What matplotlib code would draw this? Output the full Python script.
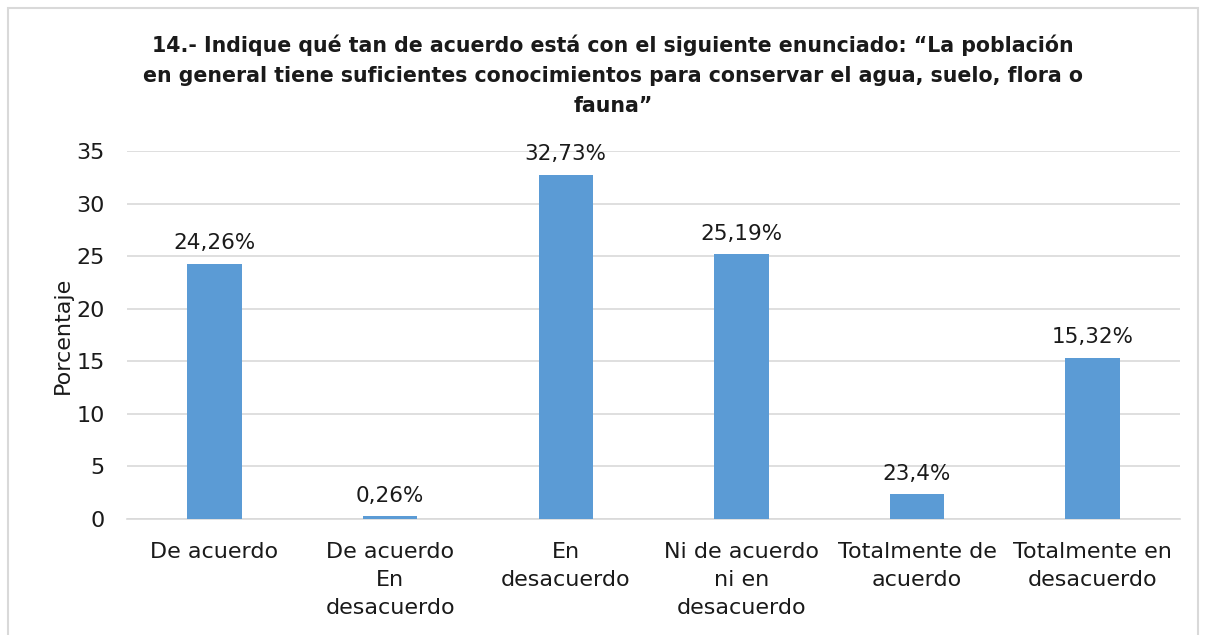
import matplotlib
matplotlib.use('Agg')
import matplotlib.pyplot as plt
from matplotlib.patches import Rectangle

# data
categorias = ['De acuerdo', 'De acuerdo\nEn\ndesacuerdo', 'En\ndesacuerdo',
              'Ni de acuerdo\nni en\ndesacuerdo', 'Totalmente de\nacuerdo',
              'Totalmente en\ndesacuerdo']
valores = [24.26, 0.26, 32.73, 25.19, 2.34, 15.32]
etiquetas = ['24,26%', '0,26%', '32,73%', '25,19%', '23,4%', '15,32%']
yticks = [0, 5, 10, 15, 20, 25, 30, 35]

titulo = ('14.- Indique qué tan de acuerdo está con el siguiente enunciado: \u201cLa población\n'
          'en general tiene suficientes conocimientos para conservar el agua, suelo, flora o\n'
          'fauna\u201d')

plt.rcParams['font.family'] = ['DejaVu Sans']

fig = plt.figure(figsize=(12.07, 6.35), dpi=100)
ax = fig.add_axes([0.105, 0.183, 0.873, 0.579])

# light frame around the chart
fig.patches.append(Rectangle((8/1207, -0.05), 1190/1207, 1 - 8/635 + 0.05,
                             transform=fig.transFigure, fill=False,
                             edgecolor='#d9d9d9', linewidth=1.5))

x = range(len(categorias))
ax.bar(x, valores, width=0.31, color='#5b9bd5', zorder=3)
for i, (v, t) in enumerate(zip(valores, etiquetas)):
    ax.text(i, v + 1.0, t, ha='center', va='bottom', fontsize=15.5, color='#1a1a1a')

ax.set_xlim(-0.5, len(categorias) - 0.5)
ax.set_ylim(0, 35)
ax.set_yticks(yticks)
ax.set_xticks(list(x))
ax.set_xticklabels(categorias, fontsize=16, color='#1a1a1a', linespacing=1.5)
ax.tick_params(axis='y', labelsize=16, colors='#1a1a1a', length=0, pad=16)
ax.tick_params(axis='x', length=0, pad=17)
ax.yaxis.grid(True, color='#d9d9d9', linewidth=1.2, zorder=0)
for s in ['top', 'right', 'left']:
    ax.spines[s].set_visible(False)
ax.spines['bottom'].set_color('#d9d9d9')
ax.spines['bottom'].set_linewidth(1.2)
ax.set_ylabel('Porcentaje', fontsize=16, color='#1a1a1a', labelpad=2)

fig.text(0.508, 0.818, titulo, ha='center', va='bottom', fontsize=14.8,
         fontweight='bold', linespacing=1.6, color='#1a1a1a')

fig.savefig('out.png', dpi=100)
